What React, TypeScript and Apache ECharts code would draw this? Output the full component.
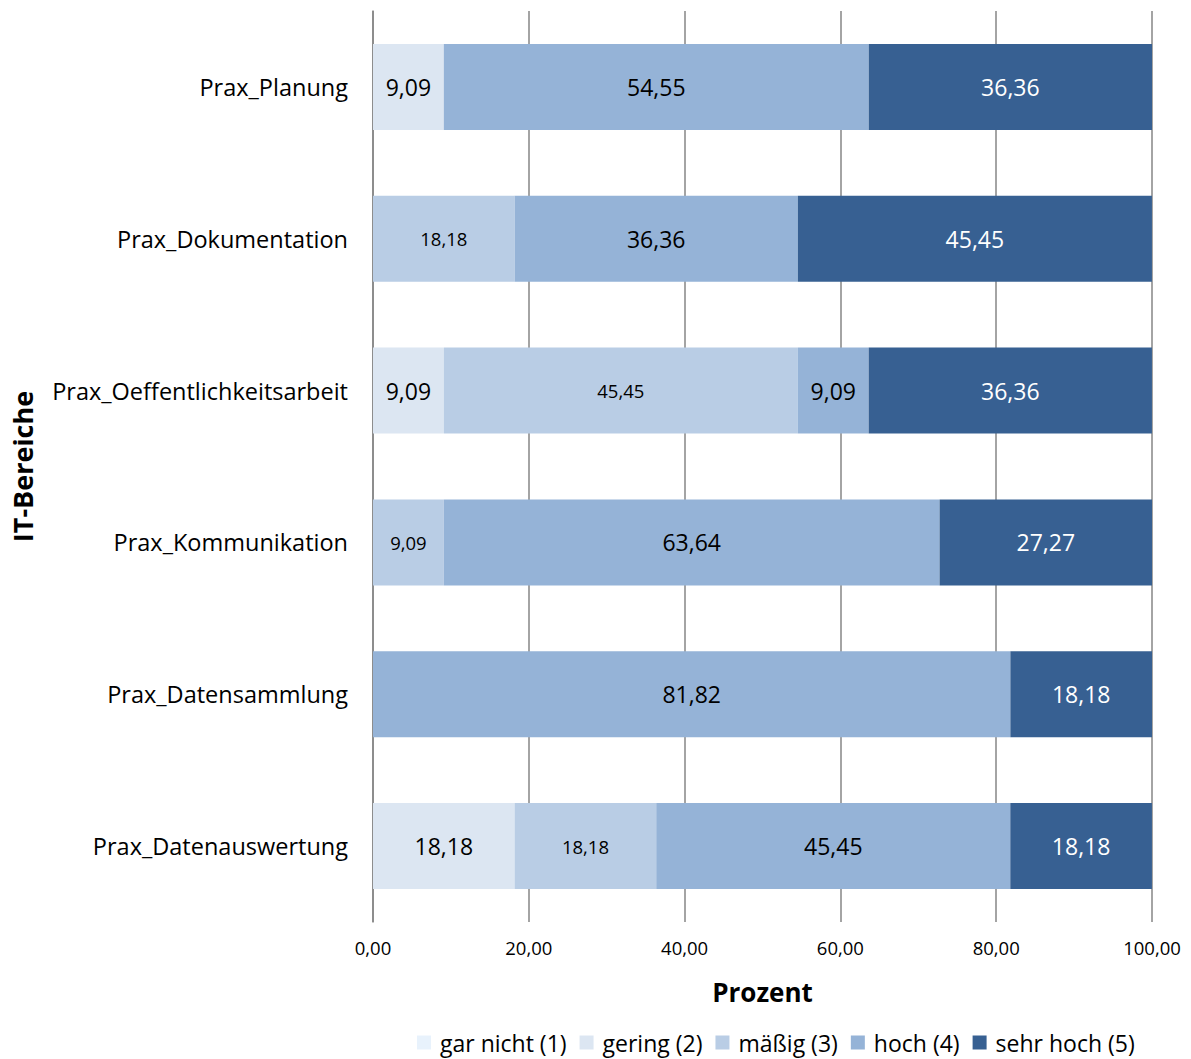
import React, { useEffect, useRef } from "react";
import * as echarts from "echarts";

const categories = [
  "Prax_Planung",
  "Prax_Dokumentation",
  "Prax_Oeffentlichkeitsarbeit",
  "Prax_Kommunikation",
  "Prax_Datensammlung",
  "Prax_Datenauswertung",
];
const seriesNames = ["gar nicht (1)", "gering (2)", "mäßig (3)", "hoch (4)", "sehr hoch (5)"];
const garNicht = [0, 0, 0, 0, 0, 0];
const gering = [9.09, 0, 9.09, 0, 0, 18.18];
const maessig = [0, 18.18, 45.45, 9.09, 0, 18.18];
const hoch = [54.55, 36.36, 9.09, 63.64, 81.82, 45.45];
const sehrHoch = [36.36, 45.45, 36.36, 27.27, 18.18, 18.18];
const xTicks = [0, 20, 40, 60, 80, 100];

const colors = ["#E8F2FC", "#DCE6F2", "#B9CDE5", "#95B3D7", "#376092"];
const FONT = "'Open Sans', sans-serif";

const fmt = (v: number) => v.toFixed(2).replace(".", ",");

export default function App() {
  const ref = useRef<HTMLDivElement>(null);
  useEffect(() => {
    const chart = echarts.init(ref.current!, null, { renderer: "svg" });
    const allData = [garNicht, gering, maessig, hoch, sehrHoch];
    const labelSizes = [23, 23, 18.5, 23, 23];
    const labelColors = ["#000", "#000", "#000", "#000", "#fff"];
    chart.setOption({
      animation: false,
      textStyle: { fontFamily: FONT },
      grid: { left: 373, right: 39, top: 11, bottom: 137, containLabel: false },
      legend: {
        data: seriesNames,
        left: 412,
        top: 1026,
        itemWidth: 14,
        itemHeight: 14,
        itemGap: 13,
        icon: "rect",
        textStyle: { fontSize: 23, color: "#000", fontFamily: FONT, padding: [0, 0, 0, 4] },
      },
      xAxis: {
        type: "value",
        min: 0,
        max: 100,
        interval: 20,
        name: "Prozent",
        nameLocation: "middle",
        nameGap: 57,
        nameTextStyle: { fontSize: 26, fontWeight: "bold", color: "#000", fontFamily: FONT },
        axisLine: { show: false },
        axisTick: { show: false },
        axisLabel: {
          fontSize: 18.5,
          color: "#000",
          margin: 16,
          fontFamily: FONT,
          formatter: (v: number) => (xTicks.includes(v) ? fmt(v) : ""),
        },
        splitLine: { show: true, lineStyle: { color: "#868686", width: 1.5 } },
      },
      yAxis: {
        type: "category",
        data: categories,
        inverse: true,
        name: "IT-Bereiche",
        nameLocation: "middle",
        nameRotate: 90,
        nameGap: 337,
        nameTextStyle: { fontSize: 27, fontWeight: "bold", color: "#000", fontFamily: FONT },
        axisLine: { show: true, lineStyle: { color: "#868686", width: 1.5 } },
        axisTick: { show: false },
        axisLabel: { fontSize: 23.5, color: "#000", margin: 25, fontFamily: FONT },
      },
      series: seriesNames.map((name, i) => ({
        name,
        type: "bar",
        stack: "total",
        barWidth: 86,
        data: allData[i],
        itemStyle: { color: colors[i] },
        label: {
          show: true,
          position: "inside",
          fontSize: labelSizes[i],
          color: labelColors[i],
          fontFamily: FONT,
          formatter: (p: any) => (p.value > 0 ? fmt(p.value) : ""),
        },
      })),
    });
    return () => chart.dispose();
  }, []);
  return <div ref={ref} style={{ width: 1191, height: 1059, position: "absolute", left: 0, top: 0 }} />;
}
